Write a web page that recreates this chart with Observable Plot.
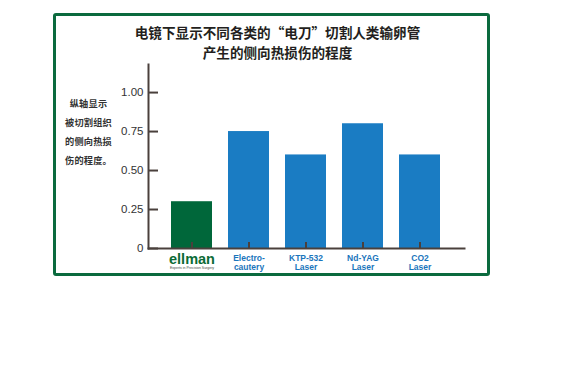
<!DOCTYPE html>
<html>
<head>
<meta charset="utf-8">
<script src="https://cdn.jsdelivr.net/npm/d3@7"></script>
<script src="https://cdn.jsdelivr.net/npm/@observablehq/plot@0.6"></script>
<style>
  html, body { margin: 0; padding: 0; background: #fff; }
  #wrap { position: relative; width: 575px; height: 367px; overflow: hidden; }
  #frame { position: absolute; left: 53px; top: 13px; width: 431px; height: 257px; border: 3px solid #0b6a3e; border-radius: 3px; }
  #title { position: absolute; left: 0; top: 22px; width: 555px; text-align: center; font-family: "Noto Sans CJK SC", sans-serif; font-weight: 700; font-size: 13.6px; line-height: 20px; color: #231f20; }
  #note { position: absolute; left: 38px; top: 93.5px; width: 101px; text-align: center; font-family: "Noto Sans CJK SC", sans-serif; font-weight: 700; font-size: 9.2px; letter-spacing: 0.2px; line-height: 19px; color: #333; }
  #chart { position: absolute; left: 0; top: 0; }
</style>
</head>
<body>
<div id="wrap">
  <div id="frame"></div>
  <div id="chart"></div>
  <div id="title"></div>
  <div id="note"></div>
</div>
<script>
const titleLines = ["电镜下显示不同各类的“电刀”切割人类输卵管", "产生的侧向热损伤的程度"];
const noteLines = ["纵轴显示", "被切割组织", "的侧向热损", "伤的程度。"];
const categories = ["ellman", "Electro-cautery", "KTP-532 Laser", "Nd-YAG Laser", "CO2 Laser"];
const xLabels = ["ellman", "Electro-\ncautery", "KTP-532\nLaser", "Nd-YAG\nLaser", "CO2\nLaser"];
const values = [0.30, 0.75, 0.60, 0.80, 0.60];
const barColors = ["#00673a", "#1a7cc3", "#1a7cc3", "#1a7cc3", "#1a7cc3"];
const yTicks = [0, 0.25, 0.5, 0.75, 1.0];
const yTickLabels = ["0", "0.25", "0.50", "0.75", "1.00"];
const logoSub = "Experts in Precision Surgery";

document.getElementById("title").innerHTML = titleLines.join("<br>");
document.getElementById("note").innerHTML = noteLines.join("<br>");

const data = categories.map((c, i) => ({cat: c, value: values[i], label: xLabels[i], color: barColors[i]}));
const axisColor = "#4a403c";

const chart = Plot.plot({
  width: 575,
  height: 367,
  marginLeft: 148,
  marginRight: 111,
  marginTop: 64,
  marginBottom: 119,
  style: {fontFamily: "'Liberation Sans', Arial, sans-serif", background: "transparent", overflow: "visible"},
  x: {type: "band", domain: categories, paddingInner: 0.28, paddingOuter: 0.37},
  y: {domain: [0, 1.18]},
  marks: [
    Plot.barY(data, {x: "cat", y: "value", fill: "color"}),
    Plot.frame({anchor: "left", stroke: axisColor, strokeWidth: 2}),
    Plot.frame({anchor: "bottom", stroke: axisColor, strokeWidth: 2}),
    Plot.axisY({ticks: yTicks, tickSize: 10, dx: 10, tickFormat: () => "", stroke: axisColor, strokeWidth: 2, label: null}),
    Plot.axisY({ticks: yTicks, tickSize: 0, tickPadding: 5, tickFormat: (d) => yTickLabels[yTicks.indexOf(d)], fontSize: 11.5, fill: "#333", label: null}),
    Plot.axisX({tickSize: 6, dy: -6, tickFormat: () => "", stroke: axisColor, strokeWidth: 2, label: null}),
    Plot.text(data.filter((d) => d.cat !== "ellman"), {x: "cat", text: "label", frameAnchor: "bottom", lineAnchor: "top", dy: 6, fontSize: 8.5, fontWeight: "bold", lineHeight: 1.06, fill: "#1a75bc"}),
    Plot.text(data.filter((d) => d.cat === "ellman"), {x: "cat", text: "label", frameAnchor: "bottom", lineAnchor: "middle", dy: 11, fontSize: 14.5, fontWeight: 900, fill: "#0b6b35", letterSpacing: "-0.3px"}),
    Plot.text(data.filter((d) => d.cat === "ellman"), {x: "cat", text: () => logoSub, frameAnchor: "bottom", lineAnchor: "middle", dy: 19.5, fontSize: 3.5, fill: "#3d4a42"})
  ]
});
document.getElementById("chart").appendChild(chart);
</script>
</body>
</html>
